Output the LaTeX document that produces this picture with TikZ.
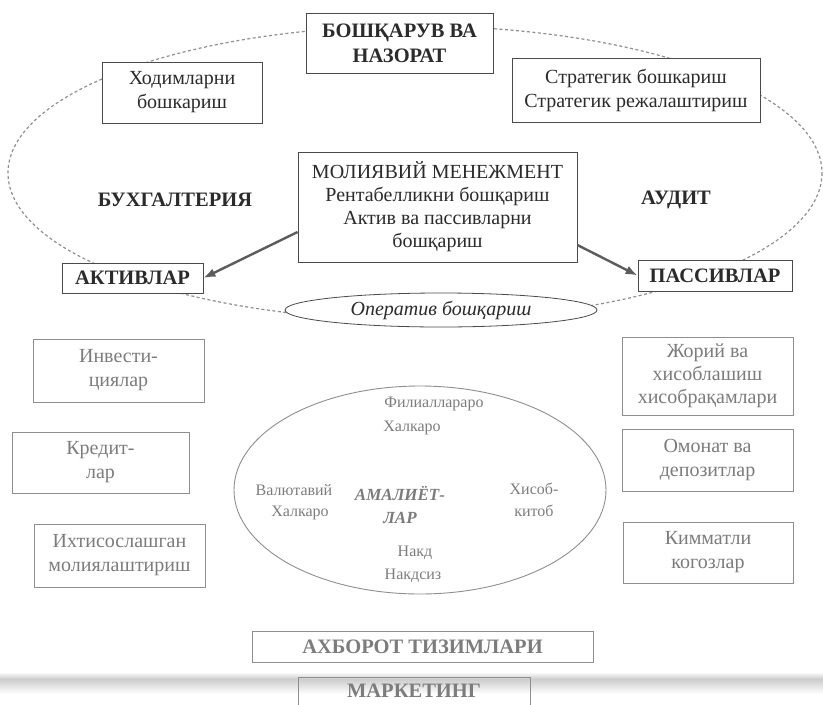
\documentclass[tikz,border=0pt]{standalone}
\usepackage{fontspec}
\setmainfont{Liberation Serif}
\usetikzlibrary{arrows.meta,shapes.geometric}
\definecolor{ink}{HTML}{2B2B2B}
\definecolor{frame}{HTML}{4A4A4A}
\definecolor{faded}{HTML}{7C7C7C}
\definecolor{fadedframe}{HTML}{8E8E8E}
\definecolor{dashgray}{HTML}{8F8F8F}
\definecolor{arrowgray}{HTML}{5C5C5C}
\begin{document}
\begin{tikzpicture}[x=1pt,y=-1pt,
  body/.style={font=\fontsize{20}{24}\selectfont, text=ink, align=center, inner sep=0pt},
  head/.style={font=\fontsize{20.5}{25}\selectfont\bfseries, text=ink, align=center, inner sep=0pt},
  softbody/.style={font=\fontsize{20}{24}\selectfont, text=faded, align=center, inner sep=0pt},
  inner/.style={font=\fontsize{16}{20}\selectfont, text=faded, align=center, inner sep=0pt},
  darkbox/.style={draw=frame, fill=white, line width=0.8pt},
  softbox/.style={draw=fadedframe, fill=white, line width=0.8pt},
  orbit/.style={draw=dashgray, line width=1.2pt, dash pattern=on 3pt off 2.5pt},
  thickarrow/.style={draw=arrowgray, line width=2.4pt, -{Latex[length=12pt,width=9pt]}}
]
\useasboundingbox (0,0) rectangle (823,705);
\clip (0,0) rectangle (823,705);

% dashed management loop behind the boxes
\draw[orbit] (415,173) ellipse [x radius=407, y radius=147];

% upper row
\node[darkbox, head, minimum width=187pt, minimum height=60pt] (ctrl) at (399.5,43) {БОШҚАРУВ ВА\\НАЗОРАТ};
\node[darkbox, body, minimum width=160pt, minimum height=61pt] (staff) at (182,92.5) {Ходимларни\\бошкариш};
\node[darkbox, body, minimum width=248pt, minimum height=64pt] (strat) at (636,90) {Стратегик бошкариш\\Стратегик режалаштириш};

% central block
\node[darkbox, body, minimum width=279pt, minimum height=110pt, font=\fontsize{20}{23}\selectfont] (fin) at (437.5,207)
  {МОЛИЯВИЙ МЕНЕЖМЕНТ\\Рентабелликни бошқариш\\Актив ва пассивларни\\бошқариш};
\node[head] (acc) at (175,200) {БУХГАЛТЕРИЯ};
\node[head] (aud) at (676,200) {АУДИТ};

% balance sheet sides
\node[darkbox, head, minimum width=141pt, minimum height=30pt] (akt) at (132.5,278) {АКТИВЛАР};
\node[darkbox, head, minimum width=154pt, minimum height=31pt] (pas) at (715,275.5) {ПАССИВЛАР};
\draw[thickarrow] ([yshift=-25pt]fin.west) -- (akt.east);
\draw[thickarrow] ([yshift=-38pt]fin.east) -- (pas.west);

% operational management
\node[ellipse, draw=frame, fill=white, line width=0.8pt, inner sep=0pt, minimum width=312pt, minimum height=34pt,
  font=\fontsize{20}{22}\selectfont\itshape, text=ink] (oper) at (441,310) {Оператив бошқариш};

% asset side
\node[softbox, softbody, minimum width=171pt, minimum height=63pt] (inv) at (118.5,370.5) {Инвести-\\циялар};
\node[softbox, softbody, minimum width=177pt, minimum height=61pt] (kred) at (100.5,462.5) {Кредит-\\лар};
\node[softbox, softbody, minimum width=171pt, minimum height=63pt] (ixt) at (119.5,555.5) {Ихтисослашган\\молиялаштириш};

% liability side
\node[softbox, softbody, minimum width=171pt, minimum height=78pt, font=\fontsize{20}{23}\selectfont] (jor) at (707.5,376) {Жорий ва\\хисоблашиш\\хисобрақамлари};
\node[softbox, softbody, minimum width=171pt, minimum height=62pt] (omon) at (707.5,460) {Омонат ва\\депозитлар};
\node[softbox, softbody, minimum width=170pt, minimum height=61pt] (kimm) at (708,552.5) {Кимматли\\когозлар};

% operations
\node[ellipse, draw=fadedframe, line width=0.9pt, minimum width=372pt, minimum height=208pt] (ops) at (420,490) {};
\node[inner] (t1) at (434,404) {Филиаллараро};
\node[inner] (t2) at (412,428) {Халкаро};
\node[inner] (t3) at (294,490) {Валютавий};
\node[inner] (t4) at (300,513) {Халкаро};
\node[inner, font=\fontsize{17}{23}\selectfont\bfseries\itshape] (t5) at (400,505) {АМАЛИЁТ-\\ЛАР};
\node[inner] (t6) at (534,489) {Хисоб-};
\node[inner] (t7) at (534,511) {китоб};
\node[inner] (t8) at (415,553) {Накд};
\node[inner] (t9) at (413,576) {Накдсиз};

% paper fold shading near the lower edge
\shade[top color=white, bottom color=black!20] (0,672) rectangle (823,679);
\shade[top color=black!20, bottom color=white] (0,679) rectangle (823,694);

% supporting systems
\node[softbox, head, text=faded, minimum width=341pt, minimum height=31pt] (info) at (422.5,646.5) {АХБОРОТ ТИЗИМЛАРИ};
\node[draw=fadedframe, line width=0.8pt, minimum width=232pt, minimum height=46pt, anchor=north] (mark) at (414,677) {};
\node[head, text=faded] (marklabel) at (mark.center |- 0,691) {МАРКЕТИНГ};
\end{tikzpicture}
\end{document}
